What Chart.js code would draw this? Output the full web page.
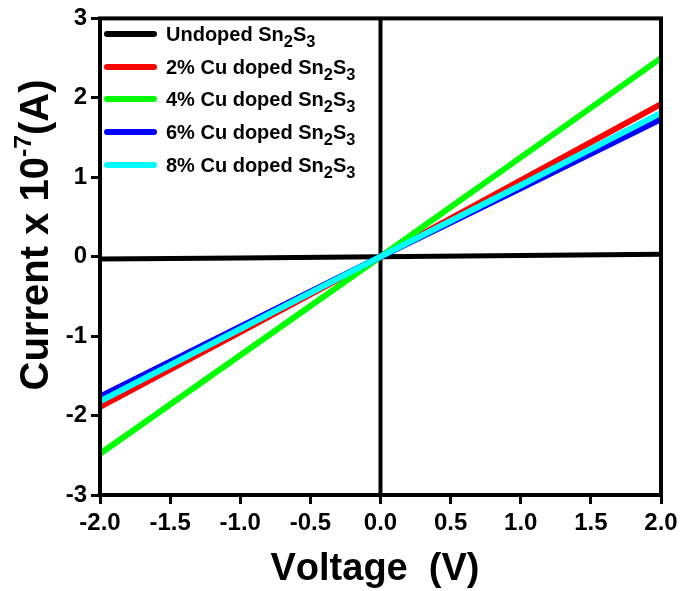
<!DOCTYPE html>
<html>
<head>
<meta charset="utf-8">
<script src="https://cdn.jsdelivr.net/npm/chart.js"></script>
<style>
  html, body { margin: 0; padding: 0; background: #fff; }
  #wrap { width: 685px; height: 591px; }
</style>
</head>
<body>
<div id="wrap"><canvas id="ivChart" width="685" height="591"></canvas></div>
<script>
// I-V curves of undoped and Cu doped Sn2S3

const voltage = [-2, -1, 0, 1, 2];

const undoped = [-0.03, -0.015, 0, 0.015, 0.03];
const cu2 = [-1.89, -0.95, 0, 0.96, 1.92];
const cu4 = [-2.48, -1.24, 0, 1.25, 2.5];
const cu6 = [-1.76, -0.88, 0, 0.86, 1.73];
const cu8 = [-1.82, -0.91, 0, 0.9, 1.81];

const seriesNames = [
  "Undoped Sn\u2082S\u2083",
  "2% Cu doped Sn\u2082S\u2083",
  "4% Cu doped Sn\u2082S\u2083",
  "6% Cu doped Sn\u2082S\u2083",
  "8% Cu doped Sn\u2082S\u2083"
];
const seriesColors = ["#000000", "#ff0000", "#00ff00", "#0000ff", "#00ffff"];

const xTitle = "Voltage  (V)";
const yTitle = "Current x 10\u207B\u2077(A)";

const FONT = "'Liberation Sans', Arial, sans-serif";
Chart.defaults.font.family = FONT;
Chart.defaults.color = "#000";

const subChars = { "\u2082": "2", "\u2083": "3" };
const supChars = { "\u207B": "-", "\u2077": "7" };

// draws text where unicode sub/superscripts become small shifted glyphs
function richWidth(ctx, text, size) {
  let w = 0;
  for (const ch of text) {
    if (subChars[ch]) { ctx.font = `bold ${size * 0.82}px ${FONT}`; w += ctx.measureText(subChars[ch]).width; }
    else if (supChars[ch]) { ctx.font = `bold ${size * 0.62}px ${FONT}`; w += ctx.measureText(supChars[ch]).width; }
    else { ctx.font = `bold ${size}px ${FONT}`; w += ctx.measureText(ch).width; }
  }
  return w;
}

function drawRich(ctx, text, x, y, size) {
  ctx.textAlign = "left";
  ctx.textBaseline = "alphabetic";
  let cx = x;
  for (const ch of text) {
    let s = ch, f = size, dy = 0;
    if (subChars[ch]) { s = subChars[ch]; f = size * 0.82; dy = size * 0.3; }
    else if (supChars[ch]) { s = supChars[ch]; f = size * 0.62; dy = -size * 0.42; }
    ctx.font = `bold ${f}px ${FONT}`;
    ctx.fillText(s, cx, y + dy);
    cx += ctx.measureText(s).width;
  }
}

const framePlugin = {
  id: "frame",
  beforeDatasetsDraw(chart) {
    const ctx = chart.ctx;
    const a = chart.chartArea;
    const x0 = chart.scales.x.getPixelForValue(0);
    ctx.save();
    ctx.strokeStyle = "#000";
    ctx.lineWidth = 4;
    ctx.beginPath();
    ctx.moveTo(x0, a.top);
    ctx.lineTo(x0, a.bottom);
    ctx.stroke();
    ctx.restore();
  },
  afterDraw(chart) {
    const ctx = chart.ctx;
    const a = chart.chartArea;
    ctx.save();
    ctx.strokeStyle = "#000";
    ctx.lineWidth = 4;
    ctx.strokeRect(a.left, a.top, a.right - a.left, a.bottom - a.top);

    // legend
    const rowY = [34, 67, 99, 132, 165];
    seriesNames.forEach((name, i) => {
      ctx.strokeStyle = seriesColors[i];
      ctx.lineWidth = 6;
      ctx.lineCap = "round";
      ctx.beginPath();
      ctx.moveTo(107, rowY[i]);
      ctx.lineTo(154, rowY[i]);
      ctx.stroke();
      ctx.fillStyle = "#000";
      drawRich(ctx, name, 166, rowY[i] + 7, 20);
    });

    // axis titles
    ctx.fillStyle = "#000";
    const xs = 38;
    const xw = richWidth(ctx, xTitle, xs);
    drawRich(ctx, xTitle, 375 - xw / 2, 580, xs);

    const ys = 40;
    const yw = richWidth(ctx, yTitle, ys);
    ctx.translate(48, 235);
    ctx.rotate(-Math.PI / 2);
    drawRich(ctx, yTitle, -yw / 2, 0, ys);
    ctx.restore();
  }
};

const orders = [5, 4, 3, 2, 1];
const values = [undoped, cu2, cu4, cu6, cu8];

new Chart(document.getElementById("ivChart"), {
  type: "line",
  data: {
    labels: voltage,
    datasets: values.map((v, i) => ({
      label: seriesNames[i],
      data: voltage.map((x, j) => ({ x: x, y: v[j] })),
      borderColor: seriesColors[i],
      borderWidth: i === 0 ? 5 : 6,
      pointRadius: 0,
      tension: 0,
      order: orders[i]
    }))
  },
  options: {
    responsive: false,
    animation: false,
    devicePixelRatio: 1,
    layout: { padding: { top: 14, right: 24, left: 0, bottom: 0 } },
    plugins: { legend: { display: false }, tooltip: { enabled: false } },
    scales: {
      x: {
        type: "linear",
        min: -2, max: 2,
        border: { display: false },
        grid: { drawOnChartArea: false, drawTicks: true, tickLength: 9, tickWidth: 3, tickColor: "#000" },
        ticks: {
          stepSize: 0.5,
          padding: 5,
          color: "#000",
          font: { size: 24, weight: "bold" },
          maxRotation: 0,
          callback: v => v.toFixed(1)
        },
        afterFit: s => { s.height = 96; }
      },
      y: {
        type: "linear",
        min: -3, max: 3,
        border: { display: false },
        grid: { drawOnChartArea: false, drawTicks: true, tickLength: 9, tickWidth: 3, tickColor: "#000" },
        ticks: {
          stepSize: 1,
          padding: 4,
          color: "#000",
          font: { size: 24, weight: "bold" }
        },
        afterFit: s => { s.width = 100; }
      }
    }
  },
  plugins: [framePlugin]
});
</script>
</body>
</html>
